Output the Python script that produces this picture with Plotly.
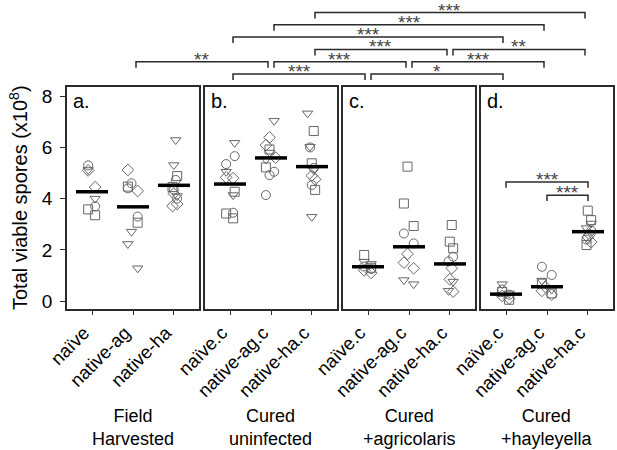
import plotly.graph_objects as go
from plotly.subplots import make_subplots

panel_letters = ["a.", "b.", "c.", "d."]
group_labels = ["Field<br>Harvested", "Cured<br>uninfected",
                "Cured<br>+agricolaris", "Cured<br>+hayleyella"]
field_categories = ["naïve", "native-ag", "native-ha"]
cured_categories = ["naïve.c", "native-ag.c", "native-ha.c"]

# total viable spores (x10^8), one list per category, grouped by marker shape
field_harvested = {
    "circle": [[5.3, 3.7], [4.6, 4.4, 3.3], [4.73, 4.34, 4.0]],
    "square": [[3.58, 3.35], [4.47, 3.06], [4.88, 4.45]],
    "diamond": [[5.1, 4.45], [5.12, 4.3], [4.2, 3.79, 3.71]],
    "triangle-down": [[5.12, 4.0], [2.71, 2.23, 1.28], [6.29, 5.31, 4.1]],
}
cured_uninfected = {
    "circle": [[5.66, 5.35, 3.45], [5.05, 4.92, 4.14], [6.0, 5.2, 4.53]],
    "square": [[4.27, 3.42, 3.23], [5.92, 5.22], [6.64, 5.38, 4.34]],
    "diamond": [[4.83, 4.8], [6.39, 6.09, 5.6], [4.75, 4.9]],
    "triangle-down": [[6.18, 5.05, 4.14], [7.04, 5.8, 5.53], [7.33, 6.03, 5.12, 3.29]],
}
cured_agricolaris = {
    "circle": [[1.25, 1.35], [2.64, 2.25], [1.73, 1.55]],
    "square": [[1.8, 1.3], [5.25, 3.81, 2.93], [2.97, 2.32, 2.06]],
    "diamond": [[1.2, 1.1], [1.84, 1.5, 1.28], [1.28, 0.85, 0.37]],
    "triangle-down": [[1.54, 1.45], [0.82, 0.66], [0.76, 0.4]],
}
cured_hayleyella = {
    "circle": [[0.45, 0.25], [1.34, 1.02], [2.75, 2.4]],
    "square": [[0.35, 0.05], [0.68, 0.3], [3.53, 3.16, 2.19]],
    "diamond": [[0.2, 0.1], [0.55, 0.4, 0.25], [2.6, 2.5, 2.3]],
    "triangle-down": [[0.66, 0.3], [0.8, 0.45], [3.03, 2.85]],
}

field_means = [4.27, 3.68, 4.52]
uninfected_means = [4.57, 5.59, 5.25]
agricolaris_means = [1.34, 2.12, 1.45]
hayleyella_means = [0.27, 0.56, 2.71]

# comparisons between panels: (panel, category, panel, category, stars)
across_tests = [
    (1, 0, 2, 0, "***"),
    (2, 0, 3, 0, "*"),
    (0, 1, 1, 1, "**"),
    (1, 1, 2, 1, "***"),
    (2, 1, 3, 1, "***"),
    (1, 2, 2, 2, "***"),
    (2, 2, 3, 2, "**"),
    (1, 0, 3, 0, "***"),
    (1, 1, 3, 1, "***"),
    (1, 2, 3, 2, "***"),
]
# comparisons inside panel d: (category, category, stars)
within_tests = [(0, 2, "***"), (1, 2, "***")]

panels = [field_harvested, cured_uninfected, cured_agricolaris, cured_hayleyella]
means = [field_means, uninfected_means, agricolaris_means, hayleyella_means]
tick_names = [field_categories] + [cured_categories] * 3

FONT = "Liberation Sans, Arial, sans-serif"
GREY = "#666666"
LINE = "#2b2b2b"
X_RANGE = [-0.61, 2.61]
Y_RANGE = [-0.31, 8.36]
W, H, M_L, M_R, M_T, M_B = 617, 450, 67, 4, 87, 141
PLOT_W = W - M_L - M_R
PLOT_H = H - M_T - M_B

fig = make_subplots(rows=1, cols=4, shared_yaxes=True, horizontal_spacing=0.011)

for p, data in enumerate(panels):
    col = p + 1
    for symbol, per_cat in data.items():
        xs, ys = [], []
        for i, vals in enumerate(per_cat):
            xs += [i] * len(vals)
            ys += vals
        fig.add_trace(
            go.Box(
                x=xs, y=ys, boxpoints="all", jitter=0.6, pointpos=0,
                fillcolor="rgba(0,0,0,0)", line=dict(color="rgba(0,0,0,0)", width=0),
                marker=dict(symbol=symbol + "-open", size=9, color=GREY,
                            line=dict(width=1, color=GREY)),
                showlegend=False, hoveron="points",
            ),
            row=1, col=col,
        )
    mx, my = [], []
    for i, m in enumerate(means[p]):
        mx += [i - 0.39, i + 0.39, None]
        my += [m, m, None]
    fig.add_trace(
        go.Scatter(x=mx, y=my, mode="lines", line=dict(color="black", width=3.5),
                   showlegend=False, hoverinfo="skip"),
        row=1, col=col,
    )
    fig.update_xaxes(
        range=X_RANGE, tickvals=[0, 1, 2], ticktext=tick_names[p], tickangle=-45,
        ticks="outside", ticklen=4, tickcolor=LINE, showline=True, mirror=True,
        linecolor=LINE, linewidth=1.5, showgrid=False, zeroline=False,
        automargin=False, ticklabelshift=-8,
        tickfont=dict(size=18.5, color="black", family=FONT),
        row=1, col=col,
    )
    fig.add_annotation(
        x=0.03, y=0.995, xref=f"x{'' if p == 0 else p + 1} domain",
        yref=f"y{'' if p == 0 else p + 1} domain", text=panel_letters[p],
        showarrow=False, xanchor="left", yanchor="top",
        font=dict(size=20, color="black", family=FONT),
    )

fig.update_yaxes(
    range=Y_RANGE, showline=True, mirror=True, linecolor=LINE, linewidth=1.5,
    showgrid=False, zeroline=False, automargin=False,
)
fig.update_yaxes(
    tickvals=[0, 2, 4, 6, 8], ticks="outside", ticklen=5, tickcolor=LINE,
    ticklabelstandoff=4, tickfont=dict(size=19, color="black", family=FONT),
    row=1, col=1,
)


def paper_x(panel, idx):
    d0, d1 = fig.layout[f"xaxis{'' if panel == 0 else panel + 1}"].domain
    return d0 + (idx - X_RANGE[0]) / (X_RANGE[1] - X_RANGE[0]) * (d1 - d0)


def px_to_paper_y(px_above):
    return 1 + px_above / PLOT_H


# brackets above the panels
across_tiers = [0, 0, 1, 1, 1, 2, 2, 3, 4, 5]
inset = 3 / PLOT_W
for (pa, ia, pb, ib, stars), tier in zip(across_tests, across_tiers):
    x0 = paper_x(pa, ia) + inset
    x1 = paper_x(pb, ib) - inset
    top = px_to_paper_y(13 + 12.3 * tier)
    leg = top - 6 / PLOT_H
    fig.add_shape(type="path", xref="paper", yref="paper",
                  path=f"M {x0},{leg} L {x0},{top} L {x1},{top} L {x1},{leg}",
                  line=dict(color=LINE, width=1.5))
    fig.add_annotation(x=(x0 + x1) / 2, y=top, xref="paper", yref="paper",
                       text=stars, showarrow=False, xanchor="center",
                       yanchor="bottom", yshift=-10,
                       font=dict(size=19, color="#444444", family=FONT))

# brackets inside panel d
d_top = max(max(v) for v in (cured_hayleyella[s][2] for s in cured_hayleyella))
for k, (ia, ib, stars) in enumerate(reversed(within_tests)):
    top = d_top + 0.6 + 0.52 * k
    leg = top - 0.22
    fig.add_shape(type="path", xref="x4", yref="y4",
                  path=f"M {ia},{leg} L {ia},{top} L {ib},{top} L {ib},{leg}",
                  line=dict(color=LINE, width=1.5))
    fig.add_annotation(x=(ia + ib) / 2, y=top, xref="x4", yref="y4",
                       text=stars, showarrow=False, xanchor="center",
                       yanchor="bottom", yshift=-10,
                       font=dict(size=19, color="#444444", family=FONT))

# group labels under the panels
for p, label in enumerate(group_labels):
    d0, d1 = fig.layout[f"xaxis{'' if p == 0 else p + 1}"].domain
    fig.add_annotation(x=(d0 + d1) / 2, y=1 - (427 - M_T) / PLOT_H,
                       xref="paper", yref="paper", text=label, showarrow=False,
                       xanchor="center", yanchor="middle",
                       font=dict(size=18, color="black", family=FONT))

fig.add_annotation(x=(18 - M_L) / PLOT_W, y=0.5, xref="paper", yref="paper",
                   text="Total viable spores (x10<sup>8</sup>)", textangle=-90,
                   showarrow=False, xanchor="center", yanchor="middle",
                   font=dict(size=20, color="black", family=FONT))

fig.update_layout(
    width=W, height=H, margin=dict(l=M_L, r=M_R, t=M_T, b=M_B),
    boxmode="overlay", paper_bgcolor="white", plot_bgcolor="white",
    font=dict(family=FONT),
)

# the page's default body margin would push the figure off the window
fig.write_html("out.html", config={"displayModeBar": False},
               post_script="document.body.style.margin = '0';")
